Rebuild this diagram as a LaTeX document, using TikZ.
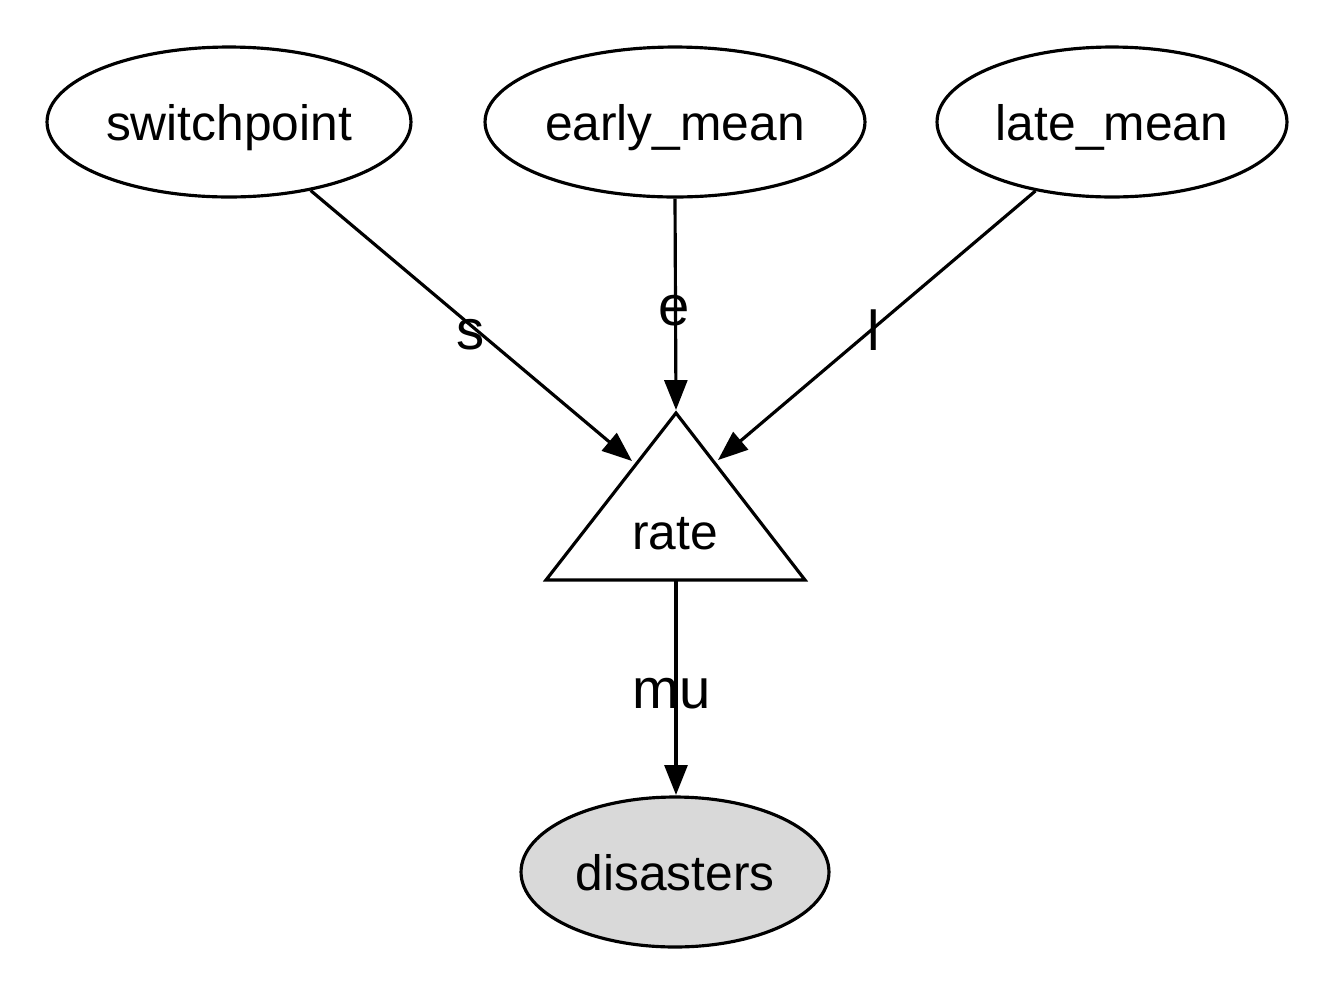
\documentclass[tikz,border=0pt]{standalone}
\usepackage{fontspec}
\setmainfont{Liberation Sans}
\usetikzlibrary{shapes.geometric,arrows.meta}
\begin{document}
\begin{tikzpicture}[x=0.02cm,y=-0.02cm,
  every node/.style={font=\fontsize{28.3}{32}\selectfont},
  var/.style={draw,ellipse,line width=1.8pt,inner sep=0pt,minimum height=3cm,text depth=0pt},
  conn/.style={line width=1.8pt,-{Triangle[length=17pt,width=13pt]}},
  lbl/.style={inner sep=0pt,font=\fontsize{32}{36}\selectfont}]
\useasboundingbox (0,0) rectangle (1333,995);
\node[var,minimum width=7.28cm] (sw) at (229,122) {switchpoint};
\node[var,minimum width=7.6cm] (em) at (675,122) {early\_mean};
\node[var,minimum width=7.0cm] (lm) at (1112,122) {late\_mean};
\node[var,minimum width=6.16cm,fill={rgb,255:red,217;green,217;blue,217}] (dis) at (675,872) {disasters};
% rate triangle
\coordinate (apex) at (676,413);
\coordinate (bl) at (546,580);
\coordinate (br) at (805,580);
\draw[line width=1.8pt,line join=miter] (apex) -- (br) -- (bl) -- cycle;
\node (rate) at (675,534) {rate};
\coordinate (tipS) at (632,461);
\coordinate (tipE) at (676,410);
\coordinate (tipL) at (718,460);
\coordinate (rateB) at (676,581);
\coordinate (tipD) at (676,795);
\draw[conn] (sw.-40.5) -- (tipS);
\draw[conn] (em.south) -- (tipE);
\draw[conn] (lm.-138.9) -- (tipL);
\draw[conn] (rateB) -- (tipD);
\node[lbl] (ls) at (471,335) {s};
\node[lbl] (le) at (674,311) {e};
\node[lbl] (ll) at (874,330) {l};
\node[lbl] (lmu) at (672,694) {mu};
\end{tikzpicture}
\end{document}
